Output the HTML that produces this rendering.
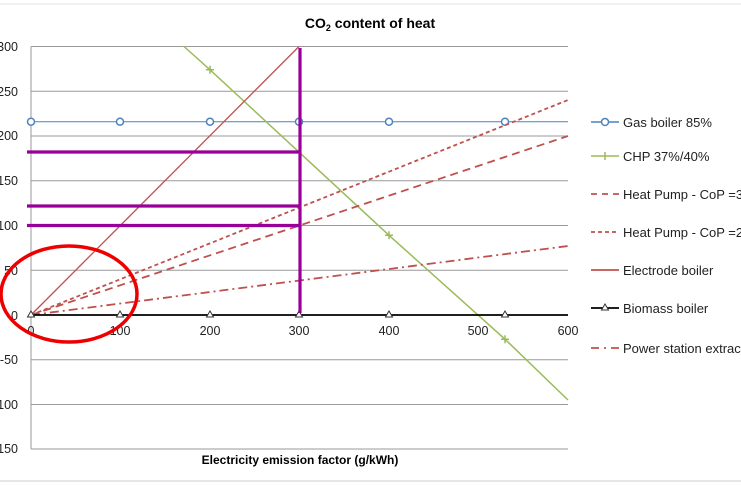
<!DOCTYPE html>
<html><head><meta charset="utf-8"><style>body{margin:0;background:#fff}svg{display:block}</style></head><body>
<svg width="741" height="486" viewBox="0 0 741 486" font-family="Liberation Sans, sans-serif">
<line x1="0" y1="4" x2="741" y2="4" stroke="#e6e6e6"/>
<line x1="0" y1="481" x2="741" y2="481" stroke="#e6e6e6" stroke-width="2"/>
<text x="370" y="28" text-anchor="middle" font-size="14" font-weight="bold">CO<tspan font-size="9" dy="3">2</tspan><tspan dy="-3"> content of heat</tspan></text>
<g stroke="#9a9a9a" stroke-width="1">
<line x1="31" y1="46.5" x2="568" y2="46.5"/><line x1="31" y1="91.3" x2="568" y2="91.3"/><line x1="31" y1="136" x2="568" y2="136"/><line x1="31" y1="180.8" x2="568" y2="180.8"/><line x1="31" y1="225.5" x2="568" y2="225.5"/><line x1="31" y1="270.3" x2="568" y2="270.3"/><line x1="31" y1="359.8" x2="568" y2="359.8"/><line x1="31" y1="404.5" x2="568" y2="404.5"/><line x1="31" y1="449" x2="568" y2="449"/><line x1="31" y1="46.5" x2="31" y2="449"/>
</g>
<g font-size="12.5" fill="#222" text-anchor="end">
<text x="18" y="51">300</text><text x="18" y="96">250</text><text x="18" y="140">200</text><text x="18" y="185">150</text><text x="18" y="230">100</text><text x="18" y="275">50</text><text x="18" y="320">0</text><text x="18" y="364">-50</text><text x="18" y="409">-100</text><text x="18" y="453">-150</text>
</g>
<g font-size="12.5" fill="#222" text-anchor="middle">
<text x="31" y="335">0</text><text x="120" y="335">100</text><text x="210" y="335">200</text><text x="299" y="335">300</text><text x="389" y="335">400</text><text x="478" y="335">500</text><text x="568" y="335">600</text>
</g>
<text x="300" y="464" text-anchor="middle" font-size="12" font-weight="bold">Electricity emission factor (g/kWh)</text>
<line x1="31" y1="121.7" x2="568" y2="121.7" stroke="#4f81bd" stroke-width="1"/>
<g fill="#fff" stroke="#4f81bd" stroke-width="1.5"><circle cx="31" cy="121.7" r="3.5"/><circle cx="120" cy="121.7" r="3.5"/><circle cx="210" cy="121.7" r="3.5"/><circle cx="299" cy="121.7" r="3.5"/><circle cx="389" cy="121.7" r="3.5"/><circle cx="505" cy="121.7" r="3.5"/></g>
<polyline points="184,46.5 210,69.8 389,235.3 505,339.2 568,400" fill="none" stroke="#9bbb59" stroke-width="1.5"/>
<g stroke="#9bbb59" stroke-width="1.5"><path d="M206,69.8h8M210,65.8v8M385,235.3h8M389,231.3v8M501,339.2h8M505,335.2v8"/></g>
<line x1="31" y1="315" x2="568" y2="136" stroke="#c0504d" stroke-width="1.8" stroke-dasharray="8,5"/>
<line x1="31" y1="315" x2="568" y2="100" stroke="#c0504d" stroke-width="1.8" stroke-dasharray="4,3"/>
<line x1="31" y1="315" x2="568" y2="246" stroke="#c0504d" stroke-width="1.8" stroke-dasharray="9,4,2,4"/>
<line x1="31" y1="315" x2="299" y2="46.5" stroke="#c0504d" stroke-width="1.3"/>
<line x1="31" y1="315" x2="568" y2="315" stroke="#000" stroke-width="1.8"/>
<g fill="#fff" stroke="#333" stroke-width="1"><path d="M31,311l-3.5,6h7z"/><path d="M120,311l-3.5,6h7z"/><path d="M210,311l-3.5,6h7z"/><path d="M299,311l-3.5,6h7z"/><path d="M389,311l-3.5,6h7z"/><path d="M505,311l-3.5,6h7z"/></g>
<g stroke="#990099" stroke-width="3.2"><line x1="300" y1="48" x2="300" y2="313"/><line x1="27" y1="152" x2="300" y2="152"/><line x1="27" y1="206" x2="300" y2="206"/><line x1="27" y1="225.5" x2="300" y2="225.5"/></g>
<ellipse cx="69" cy="294" rx="68" ry="48" fill="none" stroke="#ee0000" stroke-width="3.5"/>
<g font-size="13" fill="#222">
<line x1="591" y1="122" x2="619" y2="122" stroke="#4f81bd" stroke-width="1.5"/><circle cx="605" cy="122" r="3.5" fill="#fff" stroke="#4f81bd" stroke-width="1.5"/><text x="623" y="127">Gas boiler 85%</text>
<line x1="591" y1="156" x2="619" y2="156" stroke="#9bbb59" stroke-width="1.5"/><path d="M605,152v8" stroke="#9bbb59" stroke-width="1.5"/><text x="623" y="161">CHP 37%/40%</text>
<line x1="591" y1="194" x2="619" y2="194" stroke="#c0504d" stroke-width="1.8" stroke-dasharray="6,5"/><text x="623" y="199">Heat Pump - CoP =3</text>
<line x1="591" y1="232" x2="619" y2="232" stroke="#c0504d" stroke-width="1.8" stroke-dasharray="4,3"/><text x="623" y="237">Heat Pump - CoP =2.5</text>
<line x1="591" y1="270" x2="619" y2="270" stroke="#c0504d" stroke-width="1.8"/><text x="623" y="275">Electrode boiler</text>
<line x1="591" y1="308" x2="619" y2="308" stroke="#000" stroke-width="1.8"/><path d="M605,304l-3.5,6h7z" fill="#fff" stroke="#333"/><text x="623" y="313">Biomass boiler</text>
<line x1="591" y1="348" x2="619" y2="348" stroke="#c0504d" stroke-width="1.8" stroke-dasharray="8,5,2,5"/><text x="623" y="353">Power station extraction</text>
</g>
</svg>
</body></html>
